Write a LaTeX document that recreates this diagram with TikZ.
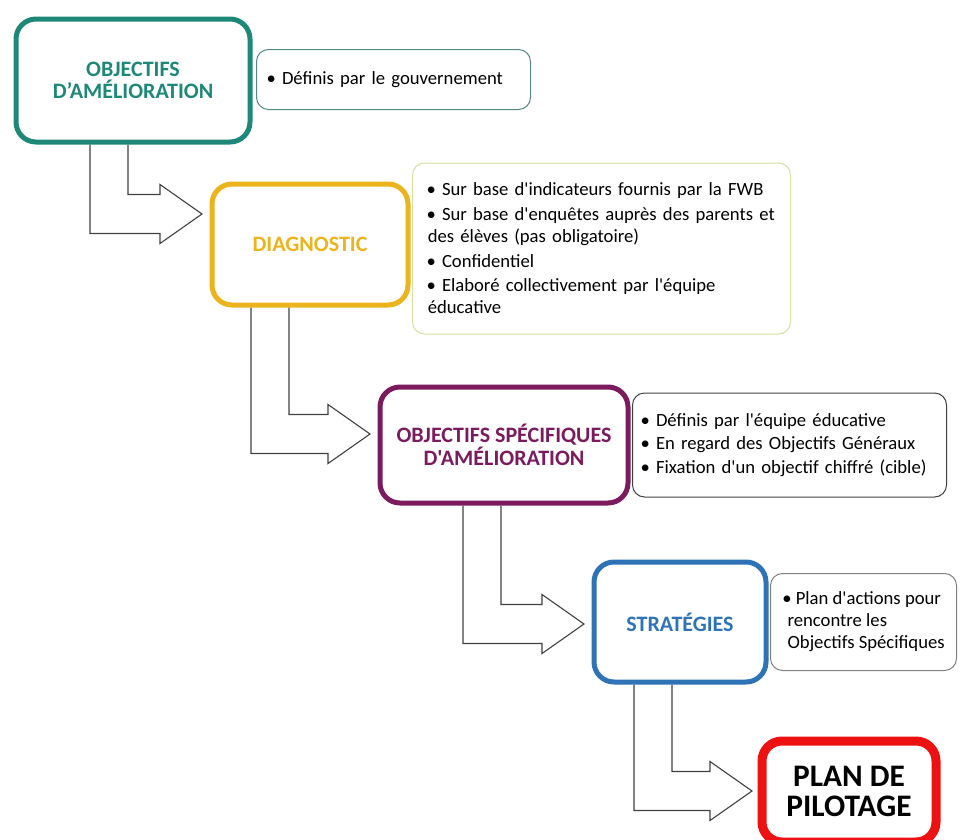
\documentclass[tikz,border=0pt]{standalone}
\usepackage{fontspec}
\setmainfont{Carlito}[Ligatures=TeXOff]
\usetikzlibrary{calc,positioning}

\newlength\pix
\setlength\pix{0.75pt}

\definecolor{tealbox}{HTML}{1E8878}
\definecolor{goldbox}{HTML}{EBB31C}
\definecolor{plumbox}{HTML}{7B1B5E}
\definecolor{bluebox}{HTML}{2D73B6}
\definecolor{redbox}{HTML}{EE1111}
\definecolor{tealline}{HTML}{5A8883}
\definecolor{limeline}{HTML}{D8DFA0}

\newcommand\bentarrow[4]{%
  \draw[bentline] let \p1=(#1.south), \p2=(#2.west), \p3=(#3,#4) in
    (\x3+38\pix,\y1-2.5\pix) -- (\x3+38\pix,\y3+19.5\pix) -- (\x2-52\pix,\y3+19.5\pix)
    -- (\x2-52\pix,\y3+29.5\pix) -- (\x2-10\pix,\y3) -- (\x2-52\pix,\y3-29.5\pix)
    -- (\x2-52\pix,\y3-19.5\pix) -- (\x3,\y3-19.5\pix) -- (\x3,\y1-2.5\pix);
}

\begin{document}
\begin{tikzpicture}[x=\pix,y=-\pix,
    stage/.style={draw, line width=5\pix, rounded corners=20\pix, inner sep=0pt, outer sep=0pt,
      align=center, font=\fontsize{16.5}{17}\selectfont\bfseries},
    note/.style={draw, line width=1\pix, rounded corners=12\pix, inner ysep=0pt, inner xsep=10\pix,
      align=left, font=\fontsize{14}{16.5}\selectfont},
    bentline/.style={draw=black!75, line width=1.1\pix, line join=miter}]
  \useasboundingbox (0,0) rectangle (960,839);

  \node[stage, draw=tealbox, text=tealbox, minimum width=234\pix, minimum height=123\pix]
    (obj) at (133,80.5) {OBJECTIFS\\D’AMÉLIORATION};
  \node[stage, draw=goldbox, text=goldbox, minimum width=196\pix, minimum height=121\pix]
    (diag) at (310,244.5) {DIAGNOSTIC};
  \node[stage, draw=plumbox, text=plumbox, minimum width=248\pix, minimum height=116\pix]
    (spec) at (504,445) {OBJECTIFS SPÉCIFIQUES\\D'AMÉLIORATION};
  \node[stage, draw=bluebox, text=bluebox, minimum width=172\pix, minimum height=120\pix]
    (strat) at (680,622) {STRATÉGIES};
  \node[stage, draw=redbox, line width=9\pix, minimum width=174\pix, minimum height=101\pix,
    font=\fontsize{23.5}{23}\selectfont\bfseries] (plan) at (849,791.5) {PLAN DE\\PILOTAGE};

  \node[note, draw=tealline, text width=254\pix, minimum height=60\pix, right=6\pix of obj, yshift=1\pix]
    (objnote) {\textbullet\ Définis par le gouvernement};
  \node[note, draw=limeline, inner xsep=14\pix, text width=350\pix, minimum height=171\pix,
    right=4\pix of diag, yshift=-4\pix] (diagnote) {%
    \textbullet\ Sur base d'indicateurs fournis par la FWB\\[2pt]
    \textbullet\ Sur base d'enquêtes auprès des parents et\\
    \hspace*{1pt}des élèves (pas obligatoire)\\[2pt]
    \textbullet\ Confidentiel\\[2pt]
    \textbullet\ Elaboré collectivement par l'équipe\\
    \hspace*{1pt}éducative};
  \node[note, draw=black!75, inner xsep=8\pix, text width=298\pix, minimum height=104\pix, right=4\pix of spec]
    (specnote) {%
    \textbullet\ Définis par l'équipe éducative\\[1pt]
    \textbullet\ En regard des Objectifs Généraux\\[1pt]
    \textbullet\ Fixation d'un objectif chiffré (cible)};
  \node[note, draw=black!50, inner xsep=0pt, minimum width=186\pix, minimum height=97\pix, right=4\pix of strat]
    (stratnote) {%
    \textbullet\ Plan d'actions pour\\
    \hspace*{4pt}rencontre les\\
    \hspace*{4pt}Objectifs Spécifiques};

  \bentarrow{obj}{diag}{90}{214}
  \bentarrow{diag}{spec}{251}{434}
  \bentarrow{spec}{strat}{463}{624}
  \bentarrow{strat}{plan}{634}{791}
\end{tikzpicture}
\end{document}
